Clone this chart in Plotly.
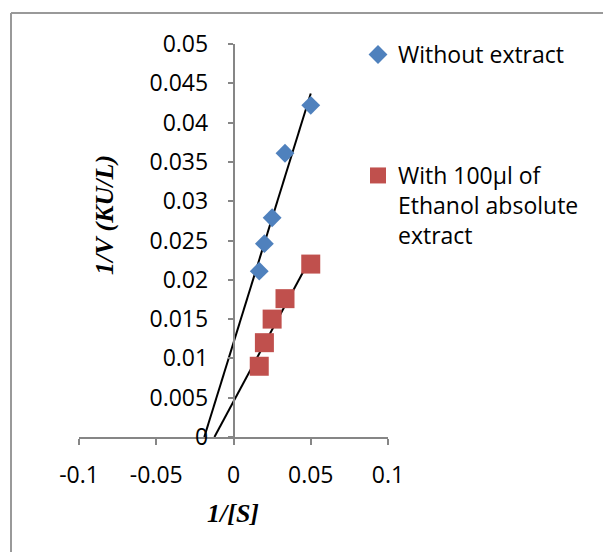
import numpy as np
import plotly.graph_objects as go

# ---- data ----
inv_s = [1/60, 1/50, 1/40, 1/30, 1/20]
v_without = [0.0211, 0.0246, 0.0279, 0.0361, 0.0422]
v_with = [0.0090, 0.0120, 0.0150, 0.0176, 0.0220]
name_without = "Without extract"
name_with = "With 100µl of<br>Ethanol absolute<br>extract"
x_tickvals = [-0.1, -0.05, 0, 0.05, 0.1]
x_ticktext = ["-0.1", "-0.05", "0", "0.05", "0.1"]
y_tickvals = [0, 0.005, 0.01, 0.015, 0.02, 0.025, 0.03, 0.035, 0.04, 0.045, 0.05]
y_ticktext = ["0", "0.005", "0.01", "0.015", "0.02", "0.025", "0.03", "0.035", "0.04", "0.045", "0.05"]

W, H = 603, 552
L, R, T, B = 79, 215, 44, 115
pw, ph = W - L - R, H - T - B

def px(x):
    return (x - L) / pw

def py(y):
    return (H - B - y) / ph

SANS = "Open Sans, sans-serif"
SERIF = "Liberation Serif, Times New Roman, serif"
FS = 23

fig = go.Figure()

def trend(xs, ys):
    m, b = np.polyfit(xs, ys, 1)
    x0 = -b / m
    x1 = max(xs)
    return [x0, x1], [m * x0 + b, m * x1 + b]

for xs, ys in [(inv_s, v_without), (inv_s, v_with)]:
    tx, ty = trend(np.array(xs), np.array(ys))
    fig.add_trace(go.Scatter(x=tx, y=ty, mode="lines", line=dict(color="black", width=2),
                             showlegend=False, hoverinfo="skip"))

fig.add_trace(go.Scatter(x=inv_s, y=v_without, mode="markers", name=name_without,
                         marker=dict(symbol="diamond", size=14.5, color="#4F81BD"),
                         legend="legend"))
fig.add_trace(go.Scatter(x=inv_s, y=v_with, mode="markers", name=name_with,
                         marker=dict(symbol="square", size=19, color="#C0504D"),
                         legend="legend2"))

fig.update_layout(
    width=W, height=H,
    margin=dict(l=L, r=R, t=T, b=B),
    paper_bgcolor="white", plot_bgcolor="white",
    font=dict(family=SANS, size=FS, color="black"),
    xaxis=dict(range=[-0.1, 0.1], tickvals=x_tickvals, ticktext=x_ticktext,
               showgrid=False, zeroline=False, showline=True, linecolor="#868686", linewidth=1.5,
               ticks="outside", ticklen=6, tickcolor="#868686", tickwidth=1.5,
               ticklabelstandoff=11, tickfont=dict(family=SANS, size=FS)),
    yaxis=dict(range=[0, 0.05], tickvals=y_tickvals, ticktext=y_ticktext,
               anchor="free", position=0.5,
               showgrid=False, zeroline=False, showline=True, linecolor="#868686", linewidth=1.5,
               ticks="outside", ticklen=5, tickcolor="#868686", tickwidth=1.5,
               ticklabelstandoff=15, tickfont=dict(family=SANS, size=FS)),
    legend=dict(x=px(358), y=py(33), xanchor="left", yanchor="top",
                font=dict(family=SANS, size=FS), bgcolor="rgba(0,0,0,0)"),
    legend2=dict(x=px(358), y=py(154), xanchor="left", yanchor="top", valign="top",
                 font=dict(family=SANS, size=FS), bgcolor="rgba(0,0,0,0)"),
    showlegend=True,
)

fig.add_annotation(text="<b><i>1/V (KU/L)</i></b>", xref="paper", yref="paper",
                   x=px(105), y=py(215), xanchor="center", yanchor="middle",
                   textangle=-90, showarrow=False,
                   font=dict(family=SERIF, size=26, color="black"))
fig.add_annotation(text="<b><i>1/[S]</i></b>", xref="paper", yref="paper",
                   x=px(233), y=py(513), xanchor="center", yanchor="middle", showarrow=False,
                   font=dict(family=SERIF, size=26, color="black"))

# chart outer border (top and left visible)
fig.add_shape(type="line", xref="paper", yref="paper", x0=px(11), x1=px(700), y0=py(13), y1=py(13),
              line=dict(color="#999999", width=2))
fig.add_shape(type="line", xref="paper", yref="paper", x0=px(11), x1=px(11), y0=py(13), y1=py(700),
              line=dict(color="#999999", width=2))

fig.write_html("out.html")
